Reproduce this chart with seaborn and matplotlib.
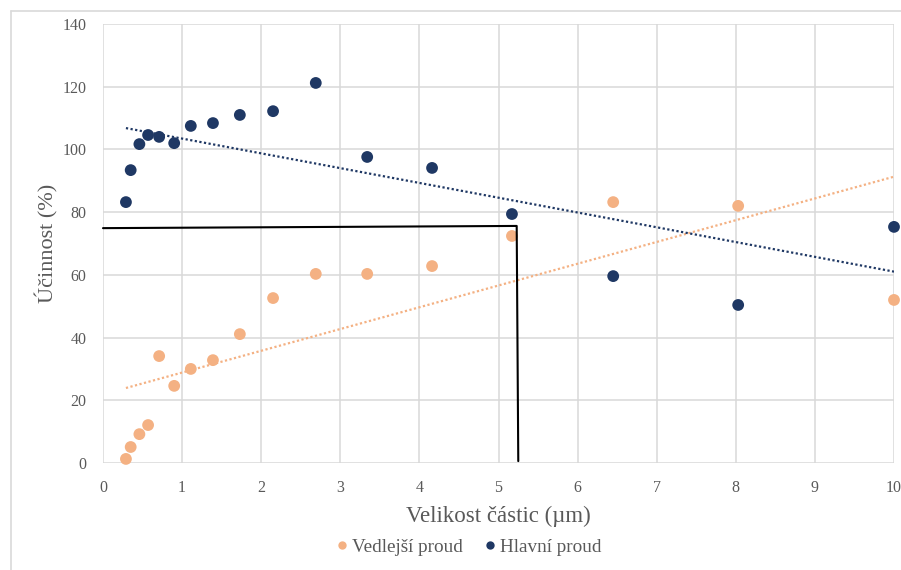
import numpy as np
import pandas as pd
import matplotlib
matplotlib.use("Agg")
import matplotlib.pyplot as plt
from matplotlib.lines import Line2D
import seaborn as sns

# Particle size classes (µm)
size_um = [0.29, 0.35, 0.46, 0.57, 0.71, 0.90, 1.11, 1.39, 1.73, 2.15,
           2.69, 3.34, 4.16, 5.17, 6.45, 8.03, 10.0]
# Separation efficiency (%) for the side stream and main stream
vedlejsi = [1.3, 5.1, 9.2, 12.1, 34.1, 24.6, 30.0, 32.8, 41.1, 52.6,
            60.3, 60.3, 62.8, 72.4, 83.2, 82.0, 52.0]
hlavni = [83.2, 93.4, 101.7, 104.6, 104.0, 102.0, 107.5, 108.4, 111.0, 112.2,
          121.2, 97.6, 94.1, 79.4, 59.6, 50.4, 75.3]

# Guide line marking the 75 % efficiency cut size
guide_x = [0.0, 5.23, 5.25]
guide_y = [74.9, 75.6, 0.6]

series_names = ["Vedlejší proud", "Hlavní proud"]
colors = {"Vedlejší proud": "#F4B183", "Hlavní proud": "#1F3864"}

df = pd.DataFrame({
    "size": size_um * 2,
    "eff": vedlejsi + hlavni,
    "proud": [series_names[0]] * len(size_um) + [series_names[1]] * len(size_um),
})

sns.set_theme(style="white")
plt.rcParams["font.family"] = ["Liberation Serif", "DejaVu Serif"]

fig = plt.figure(figsize=(9.01, 5.70), dpi=100)
ax = fig.add_axes([103 / 901, 1 - 463 / 570, 791 / 901, 439 / 570])

grid_c = "#D9D9D9"
tick_c = "#595959"

# Linear trend lines
for name in series_names:
    sub = df[df["proud"] == name]
    sns.regplot(data=sub, x="size", y="eff", ax=ax, scatter=False, ci=None,
                truncate=True,
                line_kws=dict(color=colors[name], lw=1.6, ls=(0, (1, 1.1)),
                              dash_capstyle="butt", zorder=3))

sns.scatterplot(data=df, x="size", y="eff", hue="proud", palette=colors,
                hue_order=series_names, s=72, edgecolor="none", ax=ax,
                zorder=4, clip_on=False, legend=False)

ax.plot(guide_x, guide_y, color="black", lw=1.5, zorder=5, clip_on=False)

ax.set_xlim(0, 10)
ax.set_ylim(0, 140)
ax.set_xticks(range(0, 11))
ax.set_yticks(range(0, 141, 20))
ax.grid(True, color=grid_c, lw=1.1)
ax.set_axisbelow(True)
for sp in ax.spines.values():
    sp.set_visible(False)
ax.tick_params(axis="both", length=0, labelsize=11.5, labelcolor=tick_c)
ax.tick_params(axis="x", pad=12.5)
ax.tick_params(axis="y", pad=12)

ax.set_xlabel("Velikost částic (µm)", fontsize=16.5, color=tick_c, labelpad=7)
ax.set_ylabel("Účinnost (%)", fontsize=16, color=tick_c, labelpad=3)

handles = [Line2D([], [], ls="none", marker="o", ms=6, mec="none",
                  mfc=colors[n]) for n in series_names]
fig.legend(handles, series_names, loc="center", bbox_to_anchor=(467 / 901, 1 - 547 / 570),
           ncol=2, frameon=False, fontsize=13.8, handletextpad=0.05,
           columnspacing=0.9, labelcolor=tick_c, handlelength=1.0)

# Chart border
fig.add_artist(Line2D([11 / 901, 1.0], [1 - 11 / 570, 1 - 11 / 570],
                      transform=fig.transFigure, color=grid_c, lw=1.2))
fig.add_artist(Line2D([11 / 901, 11 / 901], [0.0, 1 - 11 / 570],
                      transform=fig.transFigure, color=grid_c, lw=1.2))

fig.savefig("out.png", dpi=100)
